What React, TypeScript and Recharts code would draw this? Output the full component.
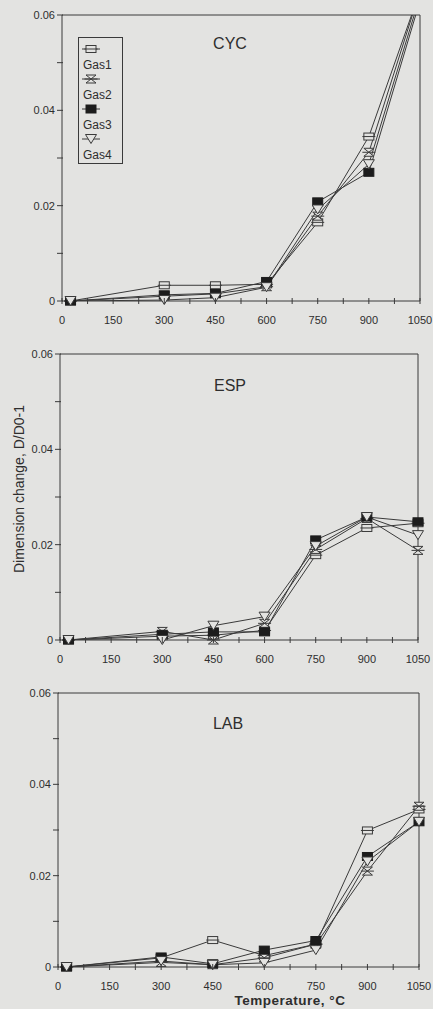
import React from 'react';
import { LineChart, Line, XAxis, YAxis, ReferenceLine, Legend, Customized } from 'recharts';

// ---- data ----
const TEMPS = [25, 300, 450, 600, 750, 900, 1050];
const GAS_NAMES = ['Gas1', 'Gas2', 'Gas3', 'Gas4'];
const GAS_KEYS = ['gas1', 'gas2', 'gas3', 'gas4'];

const CYC_GAS1 = [0, 0.0033, 0.0033, 0.0035, 0.0165, 0.0345, 0.065];
const CYC_GAS2 = [0, 0.001, 0.0015, 0.003, 0.0178, 0.0312, 0.065];
const CYC_GAS3 = [0, 0.0013, 0.0016, 0.0041, 0.0208, 0.027, 0.063];
const CYC_GAS4 = [0, 0.0002, 0.0007, 0.0029, 0.0192, 0.0287, 0.064];

const ESP_GAS1 = [0, 0.0008, 0.001, 0.002, 0.0178, 0.0235, 0.0245];
const ESP_GAS2 = [0, 0.0018, 0, 0.0035, 0.019, 0.0255, 0.0188];
const ESP_GAS3 = [0, 0.0012, 0.0017, 0.0017, 0.021, 0.0258, 0.0248];
const ESP_GAS4 = [0, 0, 0.003, 0.0049, 0.0197, 0.0258, 0.022];

const LAB_GAS1 = [0, 0.002, 0.0059, 0.0025, 0.005, 0.0299, 0.0345];
const LAB_GAS2 = [0, 0.001, 0.0005, 0.002, 0.005, 0.021, 0.0352];
const LAB_GAS3 = [0, 0.0022, 0.0007, 0.0037, 0.0058, 0.0242, 0.0318];
const LAB_GAS4 = [0, 0.0013, 0.0005, 0.0009, 0.0037, 0.0231, 0.0318];

const X_TICKS = [0, 75, 150, 225, 300, 375, 450, 525, 600, 675, 750, 825, 900, 975, 1050];
const X_TICK_LABELS = ['0', '', '150', '', '300', '', '450', '', '600', '', '750', '', '900', '', '1050'];
const Y_TICKS = [0, 0.01, 0.02, 0.03, 0.04, 0.05, 0.06];
const Y_TICK_LABELS = ['0', '', '0.02', '', '0.04', '', '0.06'];
const X_MAX = 1050;
const Y_MAX = 0.06;

const Y_TITLE = 'Dimension change, D/D0-1';
const X_TITLE = 'Temperature, °C';

// ---- style ----
const BG = '#e3e3e1';
const INK = '#3a3a3a';
const TXT = '#2e2e2e';
const FONT = '"Liberation Sans", Arial, sans-serif';

type PanelDef = {
  title: string;
  series: number[][];
  top: number;
  bottom: number;
  left: number;
  right: number;
  titleX: number;
  titleDy: number;
  legend?: boolean;
  ylabel?: boolean;
  xlabel?: boolean;
};

const PANELS: PanelDef[] = [
  { title: 'CYC', series: [CYC_GAS1, CYC_GAS2, CYC_GAS3, CYC_GAS4], top: 15, bottom: 301, left: 62, right: 420, titleX: 230, titleDy: 34, legend: true },
  { title: 'ESP', series: [ESP_GAS1, ESP_GAS2, ESP_GAS3, ESP_GAS4], top: 354, bottom: 640, left: 60, right: 418, titleX: 230, titleDy: 37, ylabel: true },
  { title: 'LAB', series: [LAB_GAS1, LAB_GAS2, LAB_GAS3, LAB_GAS4], top: 693, bottom: 967, left: 58, right: 419, titleX: 228, titleDy: 36, xlabel: true },
];

function Marker({ kind, cx, cy }: { kind: number; cx: number; cy: number }) {
  if (kind === 0) {
    return (
      <g>
        <rect x={cx - 5} y={cy - 3.5} width={10} height={7} fill={BG} stroke={INK} strokeWidth={1} />
        <line x1={cx - 6.5} x2={cx + 6.5} y1={cy} y2={cy} stroke={INK} strokeWidth={1} />
      </g>
    );
  }
  if (kind === 1) {
    return (
      <g>
        <path d={`M${cx - 5},${cy - 4}L${cx + 5},${cy - 4}L${cx - 5},${cy + 4}L${cx + 5},${cy + 4}Z`} fill={BG} stroke={INK} strokeWidth={1} />
        <line x1={cx - 6.5} x2={cx + 6.5} y1={cy} y2={cy} stroke={INK} strokeWidth={1} />
      </g>
    );
  }
  if (kind === 2) {
    return <rect x={cx - 5} y={cy - 4} width={10} height={8} fill="#1c1c1c" stroke="#1c1c1c" strokeWidth={1} />;
  }
  return (
    <path d={`M${cx - 5.5},${cy - 4.5}L${cx + 5.5},${cy - 4.5}L${cx},${cy + 4.5}Z`} fill={BG} stroke={INK} strokeWidth={1} />
  );
}

const makeDot = (kind: number) => (props: any) => {
  const { cx, cy, value, index } = props;
  if (cx == null || cy == null || value == null || Number.isNaN(cy)) return <g key={`d${kind}-${index}`} />;
  return (
    <g key={`d${kind}-${index}`}>
      <Marker kind={kind} cx={cx} cy={cy} />
    </g>
  );
};

const XTick = (props: any) => {
  const { x, y, index } = props;
  const label = X_TICK_LABELS[index] ?? '';
  return (
    <g>
      <line x1={x} x2={x} y1={y - 3} y2={y + 3} stroke={INK} strokeWidth={1} />
      {label !== '' && (
        <text x={x} y={y + 23} textAnchor="middle" fontSize={11} fill={TXT} fontFamily={FONT}>
          {label}
        </text>
      )}
    </g>
  );
};

const YTick = (props: any) => {
  const { x, y, index } = props;
  const label = Y_TICK_LABELS[index] ?? '';
  return (
    <g>
      <line x1={x - 5} x2={x + 1} y1={y} y2={y} stroke={INK} strokeWidth={1} />
      {label !== '' && (
        <text x={x - 7} y={y} dy="0.36em" textAnchor="end" fontSize={11} fill={TXT} fontFamily={FONT}>
          {label}
        </text>
      )}
    </g>
  );
};

const LegendBox = (props: any) => {
  const payload = ((props.payload || []) as any[]).filter((e) => e.type !== 'none' && GAS_NAMES.includes(e.value));
  return (
    <div style={{ position: 'relative', width: 43, height: 125, border: `1px solid ${INK}`, fontFamily: FONT, fontSize: 12, color: TXT }}>
      {payload.map((e: any, i: number) => (
        <React.Fragment key={i}>
          <svg width={20} height={12} style={{ position: 'absolute', left: 2, top: 5 + i * 30 }}>
            <line x1={1} x2={19} y1={6} y2={6} stroke={INK} strokeWidth={1} />
            <Marker kind={GAS_NAMES.indexOf(e.value)} cx={10} cy={6} />
          </svg>
          <div style={{ position: 'absolute', left: 4, top: 20 + i * 30, lineHeight: '14px' }}>{e.value}</div>
        </React.Fragment>
      ))}
    </div>
  );
};

function Panel({ p }: { p: PanelDef }) {
  const MT = 15;
  const XH = p.xlabel ? 45 : 30;
  const H = p.bottom - p.top + MT + XH;
  const chartTop = p.top - MT;
  const rows = TEMPS.map((t, i) => {
    const r: any = { t };
    GAS_KEYS.forEach((k, j) => (r[k] = p.series[j][i]));
    return r;
  });
  const markerRows = rows.map((r) => {
    const o: any = { t: r.t };
    GAS_KEYS.forEach((k) => (o[k] = r[k] <= Y_MAX ? r[k] : null));
    return o;
  });

  return (
    <div style={{ position: 'absolute', left: 0, top: chartTop }}>
      <LineChart width={433} height={H} data={rows} margin={{ top: MT, right: 433 - p.right, bottom: 0, left: 0 }}>
        <XAxis
          type="number"
          dataKey="t"
          domain={[0, X_MAX]}
          ticks={X_TICKS}
          interval={0}
          tick={<XTick />}
          tickLine={false}
          tickSize={0}
          tickMargin={0}
          height={XH}
          axisLine={{ stroke: INK, strokeWidth: 1 }}
        />
        <YAxis
          yAxisId="v"
          type="number"
          domain={[0, Y_MAX]}
          allowDataOverflow
          ticks={Y_TICKS}
          interval={0}
          width={p.left}
          tick={<YTick />}
          tickLine={false}
          tickSize={0}
          tickMargin={0}
          axisLine={{ stroke: INK, strokeWidth: 1 }}
        />
        <YAxis yAxisId="m" orientation="right" width={0} type="number" domain={[0, Y_MAX]} ticks={Y_TICKS} hide />
        <ReferenceLine yAxisId="v" y={Y_MAX} stroke={INK} strokeWidth={1} />
        <ReferenceLine yAxisId="v" x={X_MAX} stroke={INK} strokeWidth={1} />
        {GAS_KEYS.map((k, j) => (
          <Line
            key={k}
            yAxisId="v"
            dataKey={k}
            name={GAS_NAMES[j]}
            type="linear"
            stroke={INK}
            strokeWidth={1}
            dot={false}
            activeDot={false}
            isAnimationActive={false}
          />
        ))}
        {GAS_KEYS.map((k, j) => (
          <Line
            key={'m' + k}
            yAxisId="m"
            data={markerRows}
            dataKey={k}
            name={GAS_NAMES[j] + ' marker'}
            type="linear"
            stroke="none"
            dot={makeDot(j)}
            activeDot={false}
            legendType="none"
            isAnimationActive={false}
          />
        ))}
        <Customized
          component={() => (
            <g>
              <text x={p.titleX} y={MT + p.titleDy} textAnchor="middle" fontSize={16} fill={TXT} fontFamily={FONT}>
                {p.title}
              </text>
              {p.ylabel && (
                <text
                  x={24}
                  y={150}
                  transform={`rotate(-90 24 150)`}
                  textAnchor="middle"
                  fontSize={14}
                  fill={TXT}
                  fontFamily={FONT}
                >
                  {Y_TITLE}
                </text>
              )}
              {p.xlabel && (
                <text x={290} y={p.bottom - chartTop + 38} textAnchor="middle" fontSize={13.5} fontWeight="bold" fill={TXT} fontFamily={FONT} letterSpacing={0.5}>
                  {X_TITLE}
                </text>
              )}
            </g>
          )}
        />
        {p.legend && (
          <Legend
            layout="horizontal"
            verticalAlign="middle"
            align="center"
            content={<LegendBox />}
            wrapperStyle={{ left: 78, top: 37, width: 45, height: 127 }}
          />
        )}
      </LineChart>
    </div>
  );
}

export default function App() {
  return (
    <div style={{ position: 'absolute', left: 0, top: 0, width: 433, height: 1009, overflow: 'hidden', background: BG }}>
      {PANELS.map((p) => (
        <Panel key={p.title} p={p} />
      ))}
    </div>
  );
}
